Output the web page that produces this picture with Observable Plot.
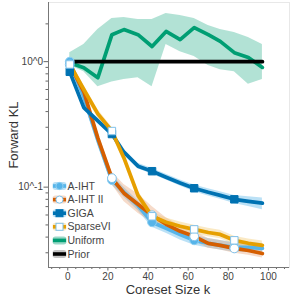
<!DOCTYPE html>
<html><head><meta charset="utf-8">
<script src="https://cdn.jsdelivr.net/npm/d3@7"></script>
<script src="https://cdn.jsdelivr.net/npm/@observablehq/plot@0.6"></script>
<style>
body{margin:0;background:#fff;}
#wrap{position:relative;width:299px;height:299px;font-family:"Liberation Sans",Arial,sans-serif;}
#wrap svg.overlay{position:absolute;left:0;top:0;pointer-events:none;}
</style></head><body><div id="wrap"></div>
<script>
const ks = [1, 8, 15, 22, 28, 35, 42, 49, 56, 63, 70, 76, 83, 90, 97];

const aiht   = [1.00, 0.525, 0.238, 0.114, 0.091, 0.0715, 0.0525, 0.047, 0.042, 0.0377, 0.0357, 0.0344, 0.0331, 0.0331, 0.0325];
const aihtLo = [0.93, 0.48, 0.215, 0.104, 0.083, 0.065, 0.048, 0.043, 0.038, 0.0345, 0.0327, 0.0315, 0.0303, 0.0303, 0.0297];
const aihtHi = [1.08, 0.575, 0.26, 0.125, 0.10, 0.078, 0.0575, 0.0515, 0.046, 0.0413, 0.039, 0.0376, 0.0362, 0.0362, 0.0355];

const aiht2   = [0.95, 0.575, 0.246, 0.118, 0.0895, 0.073, 0.0597, 0.0506, 0.0445, 0.0406, 0.0356, 0.0344, 0.0325, 0.0313, 0.0296];
const aiht2Lo = [0.88, 0.52, 0.22, 0.105, 0.077, 0.062, 0.052, 0.046, 0.0405, 0.037, 0.0326, 0.0315, 0.0298, 0.0287, 0.0272];
const aiht2Hi = [1.03, 0.635, 0.275, 0.132, 0.105, 0.088, 0.07, 0.057, 0.049, 0.0445, 0.039, 0.0376, 0.0355, 0.0342, 0.0323];

const giga   = [0.83, 0.43, 0.337, 0.265, 0.19, 0.147, 0.134, 0.12, 0.108, 0.098, 0.091, 0.086, 0.080, 0.077, 0.0745];
const gigaLo = [0.79, 0.41, 0.32, 0.252, 0.181, 0.14, 0.127, 0.114, 0.102, 0.092, 0.085, 0.08, 0.074, 0.07, 0.066];
const gigaHi = [0.87, 0.45, 0.354, 0.278, 0.20, 0.155, 0.141, 0.127, 0.114, 0.104, 0.097, 0.092, 0.086, 0.084, 0.082];

const sparse   = [0.95, 0.60, 0.384, 0.28, 0.171, 0.086, 0.0586, 0.0525, 0.0488, 0.0461, 0.0435, 0.042, 0.0377, 0.0357, 0.0344];
const sparseLo = [0.88, 0.555, 0.355, 0.26, 0.158, 0.079, 0.054, 0.0485, 0.045, 0.0426, 0.0402, 0.0388, 0.0349, 0.033, 0.0318];
const sparseHi = [1.03, 0.65, 0.415, 0.30, 0.185, 0.093, 0.0635, 0.0568, 0.0528, 0.0498, 0.047, 0.0454, 0.0407, 0.0386, 0.0372];

const uniform   = [0.98, 0.895, 0.745, 1.64, 1.80, 1.64, 1.32, 1.74, 1.50, 1.87, 1.64, 1.45, 1.18, 1.08, 0.90];
const uniformLo = [0.93, 0.83, 0.63, 0.69, 0.72, 0.745, 0.63, 1.37, 1.20, 1.10, 0.93, 0.86, 0.83, 0.66, 0.72];
const uniformHi = [1.18, 1.37, 1.80, 2.21, 2.25, 2.17, 2.17, 2.42, 2.33, 2.21, 1.94, 1.80, 1.71, 1.56, 1.37];

const prior   = [1, 1, 1, 1, 1, 1, 1, 1, 1, 1, 1, 1, 1, 1, 1];

const names = ["A-IHT", "A-IHT II", "GIGA", "SparseVI", "Uniform", "Prior"];
const colors = ["#56B4E9", "#D55E00", "#0072B2", "#E69F00", "#009E73", "#000000"];
const bandColors = ["#56B4E9", "#E8A57A", "#56B4E9", "#F2C96B", "#009E73", "#888888"];

const xMajor = [0, 20, 40, 60, 80, 100];
const xMinor = [-8, -4, 4, 8, 12, 16, 24, 28, 32, 36, 44, 48, 52, 56, 64, 68, 72, 76, 84, 88, 92, 96, 104, 108];
const yMajor = [0.1, 1];
const yMajorLabels = ["10^-1", "10^0"];
const yMinor = [0.03, 0.04, 0.05, 0.06, 0.07, 0.08, 0.09, 0.2, 0.3, 0.4, 0.5, 0.6, 0.7, 0.8, 0.9, 2];

const xDomain = [-9.6, 110.5];
const yDomain = [0.0229, 2.96];

const seriesDefs = [
  {v: aiht, lo: aihtLo, hi: aihtHi, symbol: "circle", fill: "#56B4E9", mstroke: "#8fd0f2"},
  {v: aiht2, lo: aiht2Lo, hi: aiht2Hi, symbol: "circle", fill: "#ffffff", mstroke: "#7fc1ea"},
  {v: giga, lo: gigaLo, hi: gigaHi, symbol: "square", fill: "#0072B2", mstroke: "#0072B2"},
  {v: sparse, lo: sparseLo, hi: sparseHi, symbol: "square", fill: "#ffffff", mstroke: "#7fc1ea"},
  {v: uniform, lo: uniformLo, hi: uniformHi, symbol: null},
  {v: prior, lo: prior, hi: prior, symbol: null}
];

const rowsBy = seriesDefs.map((s, si) => ks.map((k, i) => ({k, v: s.v[i], lo: s.lo[i], hi: s.hi[i], name: names[si]})));

const marks = [Plot.frame({stroke: "#e8e8e8"})];
seriesDefs.forEach((s, si) => {
  if (si < 5) marks.push(Plot.areaY(rowsBy[si], {x: "k", y1: "lo", y2: "hi", fill: bandColors[si], fillOpacity: si === 4 ? 0.3 : 0.4}));
});
seriesDefs.forEach((s, si) => {
  marks.push(Plot.lineY(rowsBy[si], {x: "k", y: "v", stroke: colors[si], strokeWidth: si === 5 ? 3.8 : 3.7}));
});
seriesDefs.forEach((s, si) => {
  if (!s.symbol) return;
  marks.push(Plot.dot(rowsBy[si].filter((d, i) => i % 3 === 0), {
    x: "k", y: "v", symbol: s.symbol, r: s.symbol === "square" ? 4.2 : 4.4,
    fill: s.fill, stroke: s.mstroke, strokeWidth: 1
  }));
});
marks.push(
  Plot.axisY({ticks: yMinor, tickSize: 2.5, tickFormat: () => "", label: null, stroke: "#666"}),
  Plot.axisY({ticks: yMajor, tickSize: 4.5, tickPadding: 1, tickFormat: d => yMajorLabels[yMajor.indexOf(d)], label: null, stroke: "#666", fill: "#444", fontSize: 10}),
  Plot.axisX({ticks: xMinor, tickSize: 2, tickFormat: () => "", label: null, stroke: "#666"}),
  Plot.axisX({ticks: xMajor, tickSize: 3.5, tickPadding: 1.5, label: null, stroke: "#666", fill: "#444", fontSize: 10}),
  Plot.ruleX([xDomain[0]], {stroke: "#777", strokeWidth: 1}),
  Plot.ruleY([yDomain[0]], {stroke: "#777", strokeWidth: 1})
);

const chart = Plot.plot({
  width: 299, height: 299,
  marginLeft: 48, marginRight: 10, marginTop: 2, marginBottom: 32,
  x: {domain: xDomain},
  y: {type: "log", domain: yDomain},
  style: {fontFamily: '"Liberation Sans", Arial, sans-serif', fontSize: "10px", background: "white", color: "#444"},
  marks
});
const wrap = document.getElementById("wrap");
wrap.appendChild(chart);

// overlay: axis titles and legend
const ns = "http://www.w3.org/2000/svg";
const ov = document.createElementNS(ns, "svg");
ov.setAttribute("class", "overlay");
ov.setAttribute("width", 299); ov.setAttribute("height", 299);
wrap.appendChild(ov);
function el(tag, attrs, text) {
  const e = document.createElementNS(ns, tag);
  for (const k in attrs) e.setAttribute(k, attrs[k]);
  if (text != null) e.textContent = text;
  ov.appendChild(e);
  return e;
}
el("text", {x: 168, y: 293.5, "text-anchor": "middle", "font-size": 13, fill: "#333", "font-family": '"Liberation Sans", Arial, sans-serif'}, "Coreset Size k");
el("text", {x: 0, y: 0, transform: "translate(18,135) rotate(-90)", "text-anchor": "middle", "font-size": 13, fill: "#333", "font-family": '"Liberation Sans", Arial, sans-serif'}, "Forward KL");

names.forEach((n, i) => {
  const y = 186 + i * 13.6;
  el("rect", {x: 52.5, y: y - 4, width: 14, height: 8, rx: 3, fill: bandColors[i], "fill-opacity": i === 5 ? 0.5 : 0.4});
  el("line", {x1: 53, x2: 66, y1: y, y2: y, stroke: colors[i], "stroke-width": 3.6});
  const s = seriesDefs[i];
  if (s.symbol === "circle") el("circle", {cx: 59.5, cy: y, r: 3.6, fill: s.fill, stroke: s.mstroke, "stroke-width": 1});
  if (s.symbol === "square") el("rect", {x: 56, y: y - 3.5, width: 7, height: 7, fill: s.fill, stroke: s.mstroke, "stroke-width": 1});
  el("text", {x: 67.5, y: y + 3.6, "font-size": 10.5, fill: "#444", "font-family": '"Liberation Sans", Arial, sans-serif'}, n);
});
</script>
</body></html>
